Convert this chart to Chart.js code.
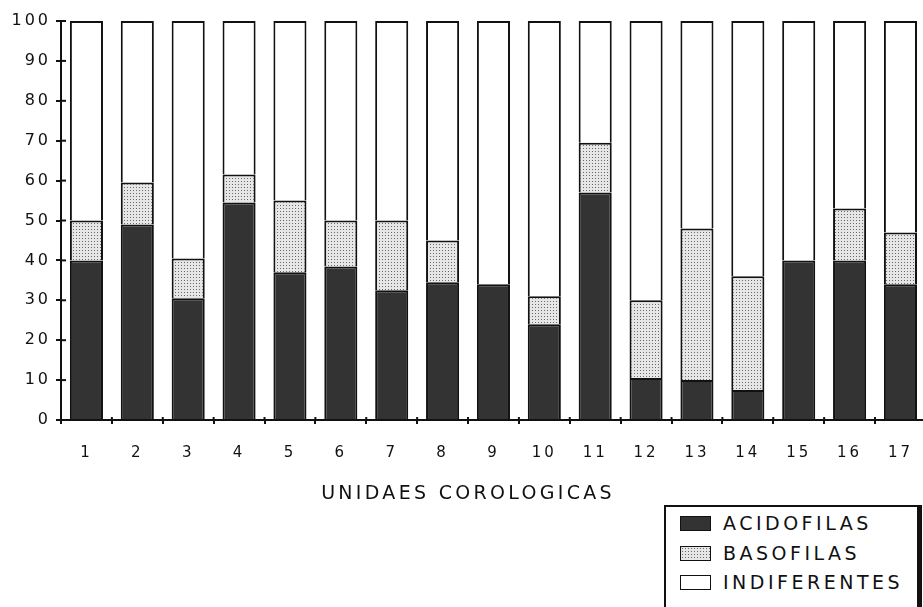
<!DOCTYPE html>
<html lang="es">
<head>
<meta charset="UTF-8">
<title>Unidades corologicas</title>
<script src="https://cdn.jsdelivr.net/npm/chart.js"></script>
<style>
    body { margin: 0; background: #fff; overflow: hidden; }
    .wrap { position: relative; width: 923px; height: 607px; overflow: hidden; }
    .xtitle {
        position: absolute; left: 268px; width: 400px; top: 481px; text-align: center;
        font-family: "DejaVu Sans", sans-serif; font-size: 19px; letter-spacing: 3.3px; color: #111;
    }
    .legend {
        position: absolute; left: 664px; top: 505px; width: 258px; height: 110px;
        border: 2px solid #111; border-right-width: 5px; box-sizing: border-box; background: #fff;
        font-family: "DejaVu Sans", sans-serif; font-size: 19px; letter-spacing: 3.5px; color: #111;
    }
    .row { position: absolute; left: 14px; display: flex; align-items: center; height: 22px; }
    .sw { width: 31px; height: 15px; border: 1.5px solid #111; box-sizing: border-box; margin-right: 12px; }
    .acid { background: #333; }
    .baso { background-color: #e6e6e6; background-image: radial-gradient(#666 0.8px, transparent 1px); background-size: 3px 3px; }
    .indif { background: #fff; }
</style>
</head>
<body>
<div class="wrap">
    <canvas id="chart" width="930" height="607"></canvas>
    <div class="xtitle">UNIDAES COROLOGICAS</div>
    <div class="legend">
        <div class="row" style="top:5px"><span class="sw acid"></span>ACIDOFILAS</div>
        <div class="row" style="top:35px"><span class="sw baso"></span>BASOFILAS</div>
        <div class="row" style="top:64px"><span class="sw indif"></span>INDIFERENTES</div>
    </div>
</div>

<script>
    const categories = ['1', '2', '3', '4', '5', '6', '7', '8', '9', '10', '11', '12', '13', '14', '15', '16', '17'];
    const acidofilas = [40, 49, 30.5, 54.5, 37, 38.5, 32.5, 34.5, 34, 24, 57, 10.5, 10, 7.5, 40, 40, 34];
    const basofilas = [10, 10.5, 10, 7, 18, 11.5, 17.5, 10.5, 0, 7, 12.5, 19.5, 38, 28.5, 0, 13, 13];
    const indiferentes = [50, 40.5, 59.5, 38.5, 45, 50, 50, 55, 66, 69, 30.5, 70, 52, 64, 60, 47, 53];
    const yTicks = [0, 10, 20, 30, 40, 50, 60, 70, 80, 90, 100];

    // dotted fill for basofilas
    const tile = document.createElement('canvas');
    tile.width = 3; tile.height = 3;
    const tctx = tile.getContext('2d');
    tctx.fillStyle = '#e6e6e6';
    tctx.fillRect(0, 0, 3, 3);
    tctx.fillStyle = '#6a6a6a';
    tctx.fillRect(1, 1, 1, 1);
    const ctx = document.getElementById('chart').getContext('2d');
    const dots = ctx.createPattern(tile, 'repeat');

    const spacing = {
        id: 'spacing',
        beforeDraw(chart) { chart.ctx.letterSpacing = '3px'; }
    };

    // short tick marks on the inner side of both axes
    const innerTicks = {
        id: 'innerTicks',
        afterDraw(chart) {
            const c = chart.ctx, x = chart.scales.x, y = chart.scales.y;
            c.save();
            c.strokeStyle = '#111';
            c.lineWidth = 2;
            y.ticks.forEach((t, i) => {
                const py = y.getPixelForTick(i);
                c.beginPath(); c.moveTo(x.left, py); c.lineTo(x.left + 5, py); c.stroke();
            });
            for (let i = 1; i < categories.length; i++) {
                const px = x.getPixelForValue(i - 0.5);
                c.beginPath(); c.moveTo(px, y.bottom); c.lineTo(px, y.bottom - 3); c.stroke();
            }
            c.restore();
        }
    };

    new Chart(ctx, {
        type: 'bar',
        data: {
            labels: categories,
            datasets: [
                { label: 'ACIDOFILAS', data: acidofilas, backgroundColor: '#333' },
                { label: 'BASOFILAS', data: basofilas, backgroundColor: dots },
                { label: 'INDIFERENTES', data: indiferentes, backgroundColor: '#fff' }
            ].map(d => Object.assign(d, {
                borderColor: '#111', borderWidth: 2,
                categoryPercentage: 1, barPercentage: 0.65
            }))
        },
        options: {
            responsive: false,
            animation: false,
            layout: { padding: { top: 21, bottom: 125, left: 0, right: 0 } },
            plugins: { legend: { display: false }, tooltip: { enabled: false } },
            scales: {
                x: {
                    stacked: true,
                    border: { color: '#111', width: 2 },
                    grid: { drawOnChartArea: false, offset: true, tickLength: 4, color: '#111', lineWidth: 2 },
                    ticks: { color: '#111', font: { family: 'DejaVu Sans', size: 15 }, padding: 20, maxRotation: 0 }
                },
                y: {
                    stacked: true,
                    min: 0, max: 100,
                    afterBuildTicks: s => { s.ticks = yTicks.map(v => ({ value: v })); },
                    afterFit: s => { s.width = 61; },
                    border: { color: '#111', width: 2 },
                    grid: { drawOnChartArea: false, tickLength: 5, color: '#111', lineWidth: 2 },
                    ticks: { color: '#111', font: { family: 'DejaVu Sans', size: 16 }, padding: 5 }
                }
            }
        },
        plugins: [spacing, innerTicks]
    });
</script>
</body>
</html>
